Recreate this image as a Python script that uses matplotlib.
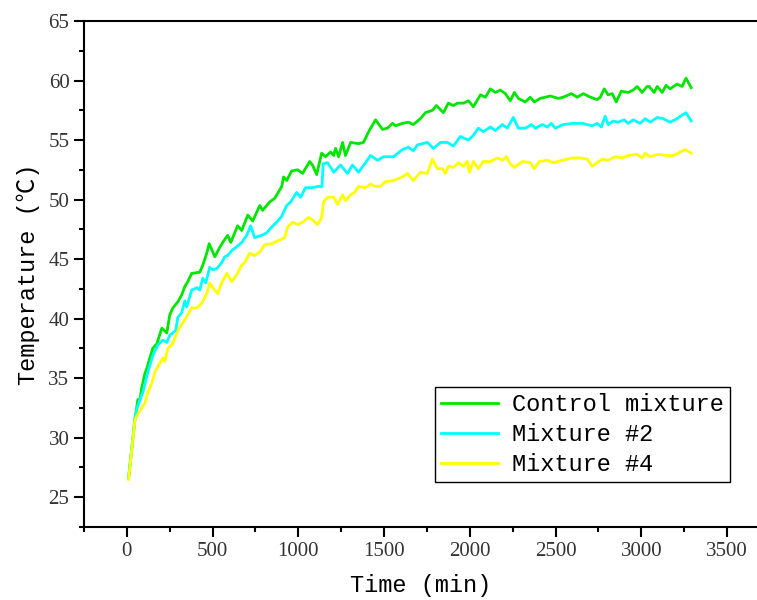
import matplotlib
matplotlib.use("Agg")
import matplotlib.pyplot as plt
from matplotlib.ticker import MultipleLocator

# ---------------------------------------------------------------------------
# Data
# ---------------------------------------------------------------------------
control_t = [10, 47, 64, 76, 87, 105, 116, 134, 151, 175, 186, 204, 233, 250, 268,
             297, 320, 338, 355, 378, 425, 443, 466, 480, 513, 542, 559, 588, 606,
             646, 670, 705, 734, 775, 792, 833, 862, 903, 914, 932, 961, 996, 1025,
             1066, 1083, 1107, 1118, 1136, 1159, 1188, 1206, 1217, 1235, 1258, 1275,
             1305, 1351, 1380, 1410, 1450, 1491, 1520, 1549, 1567, 1607, 1642, 1671,
             1712, 1741, 1782, 1805, 1846, 1875, 1904, 1928, 1963, 1992, 2021, 2062,
             2091, 2120, 2149, 2178, 2207, 2236, 2260, 2283, 2324, 2353, 2376, 2411,
             2469, 2516, 2545, 2592, 2627, 2662, 2703, 2743, 2761, 2784, 2807, 2831,
             2854, 2883, 2924, 2953, 2976, 3005, 3034, 3046, 3075, 3093, 3122, 3145,
             3168, 3209, 3238, 3261, 3291]
control_T = [26.6, 31.5, 33.2, 33.2, 34.2, 35.4, 35.8, 36.7, 37.5, 37.9, 38.4, 39.2,
             38.8, 40.3, 40.9, 41.4, 42.0, 42.7, 43.1, 43.8, 43.9, 44.5, 45.5, 46.3,
             45.2, 46.0, 46.4, 47.0, 46.4, 47.8, 47.4, 48.7, 48.2, 49.5, 49.1, 49.8,
             50.1, 51.1, 51.9, 51.6, 52.4, 52.5, 52.2, 53.2, 52.9, 52.1, 52.8, 53.9,
             53.6, 54.0, 53.7, 54.3, 53.6, 54.8, 53.7, 54.8, 54.7, 54.8, 55.7, 56.7,
             55.9, 56.0, 56.4, 56.2, 56.4, 56.5, 56.3, 56.8, 57.3, 57.5, 57.9, 57.3,
             58.1, 57.9, 58.1, 58.1, 58.3, 57.8, 58.8, 58.6, 59.3, 59.0, 59.2, 58.9,
             58.3, 59.0, 58.5, 58.2, 58.6, 58.2, 58.5, 58.7, 58.5, 58.6, 58.9, 58.6,
             58.9, 58.6, 58.4, 58.6, 59.3, 58.8, 58.9, 58.2, 59.1, 59.0, 59.2, 59.5,
             59.0, 59.5, 59.5, 59.0, 59.5, 59.0, 59.6, 59.3, 59.7, 59.5, 60.2, 59.4]

mix2_t = [10, 47, 64, 82, 93, 122, 151, 181, 210, 233, 250, 285, 297, 320, 338, 349,
          378, 408, 425, 443, 460, 483, 501, 524, 553, 571, 588, 617, 629, 670, 699,
          722, 745, 786, 815, 845, 874, 903, 932, 955, 990, 1013, 1042, 1083, 1112,
          1138, 1145, 1171, 1206, 1246, 1287, 1316, 1351, 1392, 1421, 1462, 1497,
          1555, 1607, 1642, 1671, 1695, 1753, 1788, 1829, 1869, 1904, 1945, 1992,
          2021, 2050, 2079, 2120, 2149, 2190, 2219, 2254, 2283, 2324, 2359, 2382,
          2423, 2452, 2475, 2499, 2545, 2598, 2656, 2714, 2743, 2767, 2790, 2807,
          2836, 2865, 2900, 2924, 2953, 2994, 3023, 3052, 3093, 3128, 3168, 3209,
          3238, 3261, 3291]
mix2_T = [26.6, 31.7, 32.7, 33.4, 33.8, 35.5, 36.9, 37.8, 38.2, 38.0, 38.6, 39.0, 40.1,
          40.5, 41.5, 41.0, 42.4, 42.6, 42.4, 43.4, 43.0, 44.3, 44.1, 44.2, 44.7, 45.2,
          45.3, 45.8, 45.9, 46.4, 47.0, 47.8, 46.8, 47.0, 47.2, 47.7, 48.1, 48.6, 49.5,
          49.8, 50.6, 50.2, 51.0, 51.0, 51.1, 51.1, 53.0, 53.1, 52.3, 52.9, 52.2, 52.9,
          52.3, 53.1, 53.7, 53.3, 53.6, 53.6, 54.2, 54.4, 54.1, 54.6, 54.8, 54.3, 54.8,
          54.8, 54.5, 55.3, 55.0, 55.4, 56.0, 55.7, 56.1, 55.8, 56.3, 56.0, 56.9, 56.0,
          56.0, 56.3, 56.0, 56.3, 56.1, 56.4, 56.0, 56.3, 56.4, 56.4, 56.2, 56.4, 56.1,
          57.0, 56.3, 56.6, 56.5, 56.7, 56.4, 56.7, 56.4, 56.8, 56.5, 56.9, 56.8, 56.5,
          56.8, 57.1, 57.3, 56.6]

mix4_t = [10, 47, 64, 87, 105, 122, 146, 163, 186, 210, 221, 239, 268, 280, 309, 338,
          378, 408, 437, 466, 483, 501, 530, 553, 583, 612, 641, 670, 687, 716, 745,
          775, 804, 845, 891, 920, 938, 967, 996, 1025, 1060, 1083, 1112, 1136, 1147,
          1171, 1206, 1229, 1258, 1275, 1305, 1328, 1351, 1392, 1421, 1450, 1479,
          1508, 1555, 1607, 1636, 1671, 1712, 1753, 1782, 1811, 1840, 1858, 1875,
          1904, 1934, 1963, 1986, 1998, 2021, 2050, 2079, 2120, 2161, 2190, 2213,
          2236, 2260, 2306, 2353, 2376, 2405, 2452, 2487, 2539, 2598, 2644, 2685,
          2714, 2743, 2772, 2807, 2848, 2889, 2924, 2976, 3005, 3023, 3052, 3098,
          3151, 3186, 3215, 3256, 3291]
mix4_T = [26.5, 31.5, 32.0, 32.5, 32.9, 33.8, 34.6, 35.5, 36.1, 36.7, 36.4, 37.5, 37.9,
          38.4, 39.3, 39.9, 40.9, 40.9, 41.3, 42.1, 43.0, 42.6, 42.1, 43.0, 43.8, 43.1,
          43.7, 44.5, 44.7, 45.5, 45.3, 45.6, 46.2, 46.3, 46.6, 46.8, 47.7, 48.1, 47.9,
          48.1, 48.5, 48.3, 47.9, 48.5, 49.8, 50.2, 50.2, 49.6, 50.4, 49.9, 50.4, 50.6,
          51.1, 51.0, 51.3, 51.1, 51.1, 51.5, 51.6, 51.9, 52.2, 51.6, 52.3, 52.2, 53.4,
          52.6, 52.6, 52.2, 52.8, 52.7, 53.1, 52.8, 53.2, 52.3, 53.2, 52.6, 53.2, 53.2,
          53.5, 53.3, 53.6, 53.0, 52.7, 53.2, 53.1, 52.6, 53.2, 53.3, 53.1, 53.3, 53.5,
          53.5, 53.4, 52.8, 53.1, 53.4, 53.3, 53.6, 53.5, 53.7, 53.8, 53.5, 53.9, 53.6,
          53.8, 53.7, 53.7, 53.9, 54.2, 53.9]

labels = ["Control mixture", "Mixture #2", "Mixture #4"]
colors = ["#00E600", "#00FFFF", "#FFFF00"]

MONO = ["Liberation Mono", "Noto Sans CJK SC", "DejaVu Sans"]

# ---------------------------------------------------------------------------
# Figure
# ---------------------------------------------------------------------------
fig = plt.figure(figsize=(7.57, 6.0), dpi=100)
ax = fig.add_axes([84 / 757, 1 - 527 / 600, 1 - 84 / 757, (527 - 21) / 600])

series = [(control_t, control_T), (mix2_t, mix2_T), (mix4_t, mix4_T)]
for (t, T), lab, c in zip(series, labels, colors):
    ax.plot(t, T, color=c, lw=2.0, label=lab)

ax.set_xlim(-250, 3675)
ax.set_ylim(22.5, 65)
ax.xaxis.set_major_locator(MultipleLocator(500))
ax.xaxis.set_minor_locator(MultipleLocator(250))
ax.yaxis.set_major_locator(MultipleLocator(5))
ax.yaxis.set_minor_locator(MultipleLocator(2.5))

ax.spines["right"].set_visible(False)
for s in ("left", "bottom", "top"):
    ax.spines[s].set_linewidth(1.5)
ax.tick_params(which="major", direction="out", length=7, width=1.5, top=False, right=False)
ax.tick_params(which="minor", direction="out", length=3.5, width=1.5, top=False, right=False)
for lbl in ax.get_xticklabels() + ax.get_yticklabels():
    lbl.set_family("Liberation Serif")
    lbl.set_fontsize(15)
    lbl.set_color("#333333")

ax.set_xlabel("Time (min)", family=MONO, fontsize=17, labelpad=10)
ax.set_ylabel("Temperature (℃)", family=MONO, fontsize=17, labelpad=6)

leg = ax.legend(loc="upper left", bbox_to_anchor=(435 / 757, 1 - 387 / 600),
                bbox_transform=fig.transFigure, prop={"family": MONO, "size": 17},
                fancybox=False, edgecolor="black", framealpha=1,
                handlelength=2.4, handletextpad=0.6, labelspacing=0.3,
                borderpad=0.25, borderaxespad=0)
leg.get_frame().set_linewidth(1.0)

fig.savefig("out.png", dpi=100)
